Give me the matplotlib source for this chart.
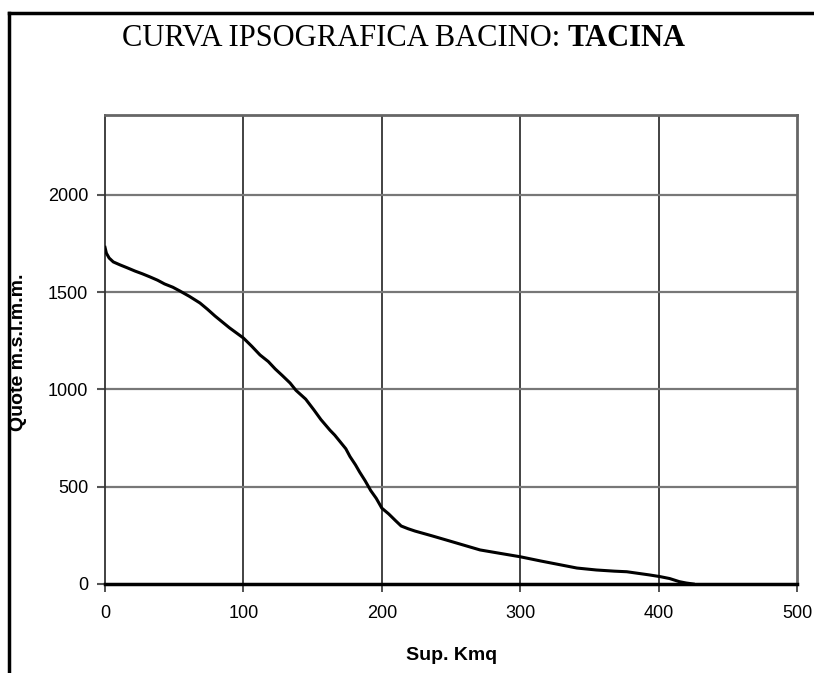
import matplotlib
matplotlib.use("Agg")
import matplotlib.pyplot as plt
from matplotlib.lines import Line2D

# area (Kmq) and elevation (m s.l.m.m.)
area = [0, 1, 3, 6, 10.8, 16, 21.7, 27, 32.5, 38, 43, 49, 54, 61, 68.6, 74, 79.5,
        85, 90, 95, 100, 106, 112, 118, 123, 128, 133.7, 138, 145, 151, 156,
        162.6, 166, 170, 174, 177, 181, 184, 188, 192, 196, 200, 205, 210,
        214, 219, 224, 236, 249, 260, 271, 285, 300, 315, 328, 341, 355,
        368, 377, 385, 393, 401, 408, 415, 420, 425]
elev = [1730, 1700, 1675, 1655, 1640, 1625, 1608, 1594, 1578, 1561, 1542, 1525,
        1506, 1478, 1444, 1412, 1377, 1345, 1316, 1290, 1264, 1222, 1177,
        1143, 1105, 1072, 1033, 995, 950, 894, 845, 790, 765, 730, 695, 655,
        612, 575, 530, 480, 440, 390, 360, 325, 298, 284, 272, 248, 221, 198,
        175, 158, 140, 118, 100, 82, 72, 66, 63, 55, 47, 38, 28, 12, 5, 0]

x_ticks = [0, 100, 200, 300, 400, 500]
y_ticks = [0, 500, 1000, 1500, 2000]

fig = plt.figure(figsize=(8.14, 6.73), dpi=100)
ax = fig.add_axes([105 / 814, 89 / 673, 692 / 814, 469 / 673])

ax.plot(area, elev, color="black", lw=2.2, solid_joinstyle="round", zorder=3)

ax.set_xlim(0, 500)
ax.set_ylim(0, 2410)
ax.set_xticks(x_ticks)
ax.set_yticks(y_ticks)

for v in x_ticks[1:-1]:
    ax.axvline(v, color="#222222", lw=1.2, zorder=1)
for v in y_ticks[1:]:
    ax.axhline(v, color="#777777", lw=1.6, zorder=1)
ax.axhline(0, color="black", lw=2.5, zorder=4, clip_on=False)

for side in ["top", "right"]:
    ax.spines[side].set_color("#666666")
    ax.spines[side].set_linewidth(2)
ax.spines["left"].set_color("#333333")
ax.spines["left"].set_linewidth(1.3)
ax.spines["bottom"].set_visible(False)

ax.tick_params(axis="y", length=6, width=1.5, color="#555555", pad=6,
               labelsize=13)
ax.tick_params(axis="x", length=6, width=1.2, color="#333333", pad=9,
               labelsize=13)
for lbl in ax.get_xticklabels() + ax.get_yticklabels():
    lbl.set_fontfamily("Liberation Sans")

fig.text(452 / 814, 1 - 656 / 673, "Sup. Kmq", ha="center", va="center",
         fontsize=14, fontweight="bold", family="Liberation Sans")
fig.text(19 / 814, 1 - 352 / 673, "Quote m.s.l.m.m.", ha="center", va="center",
         rotation=90, fontsize=14, fontweight="bold", family="Liberation Sans")

t1 = fig.text(122 / 814, 1 - 38 / 673, "CURVA IPSOGRAFICA BACINO: ", ha="left",
              va="center", fontsize=22, family="Liberation Serif")
fig.canvas.draw()
bb = t1.get_window_extent()
fig.text(bb.x1 / 814, 1 - 38 / 673, "TACINA", ha="left", va="center",
         fontsize=22, fontweight="bold", family="Liberation Serif")

# page frame (top and left edges)
fig.add_artist(Line2D([9 / 814, 812 / 814], [1 - 13 / 673, 1 - 13 / 673],
                      color="black", lw=2.5, transform=fig.transFigure))
fig.add_artist(Line2D([9 / 814, 9 / 814], [1 - 13 / 673, 0],
                      color="black", lw=2.5, transform=fig.transFigure))

fig.savefig("out.png", dpi=100)
